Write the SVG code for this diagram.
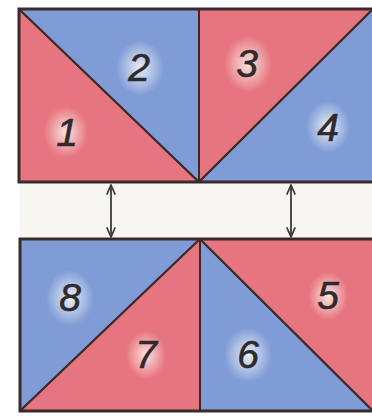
<svg xmlns="http://www.w3.org/2000/svg" width="372" height="416" viewBox="0 0 372 416">
  <defs>
    <radialGradient id="glowR" cx="0.5" cy="0.5" r="0.5">
      <stop offset="0" stop-color="#fbe9e6" stop-opacity="0.95"/>
      <stop offset="1" stop-color="#fbe9e6" stop-opacity="0"/>
    </radialGradient>
    <radialGradient id="glowB" cx="0.5" cy="0.5" r="0.5">
      <stop offset="0" stop-color="#eef1f8" stop-opacity="0.95"/>
      <stop offset="1" stop-color="#eef1f8" stop-opacity="0"/>
    </radialGradient>
    <marker id="head" viewBox="0 0 10 10" refX="9" refY="5" markerWidth="12" markerHeight="12" markerUnits="userSpaceOnUse" orient="auto-start-reverse">
      <path d="M1,1.5 L9,5 L1,8.5" fill="none" stroke="#3d3a3a" stroke-width="1.4"/>
    </marker>
  </defs>
  <style>
    .red { fill: #e7757f; stroke: #3a2a2c; stroke-width: 2; stroke-linejoin: round; }
    .blue { fill: #7f9cd6; stroke: #3a2a2c; stroke-width: 2; stroke-linejoin: round; }
    .num { font-family: "Liberation Sans", Arial, sans-serif; font-style: italic; font-size: 39px; fill: #2f2a2c; stroke: #2f2a2c; stroke-width: 0.6; text-anchor: middle; }
    .frame { fill: none; stroke: #3a2a2c; stroke-width: 3; }
    .arrow { stroke: #3d3a3a; stroke-width: 1.8; fill: none; marker-start: url(#head); marker-end: url(#head); }
  </style>
  <rect x="0" y="0" width="372" height="416" fill="#ffffff"/>
  <rect x="19" y="183" width="353" height="56" fill="#f8f6f3"/>

  <g id="piece-1">
    <polygon class="red" points="19,9 199,182 19,182"/>
    <ellipse cx="66" cy="132" rx="22" ry="26" fill="url(#glowR)"/>
    <text class="num" x="67" y="146">1</text>
  </g>
  <g id="piece-2">
    <polygon class="blue" points="19,9 199,9 199,182"/>
    <ellipse cx="140" cy="68" rx="24" ry="28" fill="url(#glowB)"/>
    <text class="num" x="139" y="81">2</text>
  </g>
  <g id="piece-3">
    <polygon class="red" points="199,9 373,9 199,182"/>
    <ellipse cx="248" cy="64" rx="24" ry="28" fill="url(#glowR)"/>
    <text class="num" x="247" y="77">3</text>
  </g>
  <g id="piece-4">
    <polygon class="blue" points="373,9 373,182 199,182"/>
    <ellipse cx="328" cy="127" rx="22" ry="26" fill="url(#glowB)"/>
    <text class="num" x="328" y="141">4</text>
  </g>

  <g id="piece-8">
    <polygon class="blue" points="20,239 200,239 20,411"/>
    <ellipse cx="70" cy="298" rx="24" ry="28" fill="url(#glowB)"/>
    <text class="num" x="70" y="311">8</text>
  </g>
  <g id="piece-7">
    <polygon class="red" points="200,239 200,411 20,411"/>
    <ellipse cx="146" cy="355" rx="20" ry="24" fill="url(#glowR)"/>
    <text class="num" x="146" y="368">7</text>
  </g>
  <g id="piece-6">
    <polygon class="blue" points="200,239 373,411 200,411"/>
    <ellipse cx="248" cy="355" rx="24" ry="28" fill="url(#glowB)"/>
    <text class="num" x="248" y="368">6</text>
  </g>
  <g id="piece-5">
    <polygon class="red" points="200,239 373,239 373,411"/>
    <ellipse cx="328" cy="296" rx="20" ry="24" fill="url(#glowR)"/>
    <text class="num" x="328" y="309">5</text>
  </g>

  <rect class="frame" x="19" y="9" width="356" height="173"/>
  <rect class="frame" x="20" y="239" width="356" height="172"/>

  <g id="connectors">
    <line class="arrow" x1="111" y1="185" x2="111" y2="237"/>
    <line class="arrow" x1="291" y1="185" x2="291" y2="237"/>
  </g>
</svg>
